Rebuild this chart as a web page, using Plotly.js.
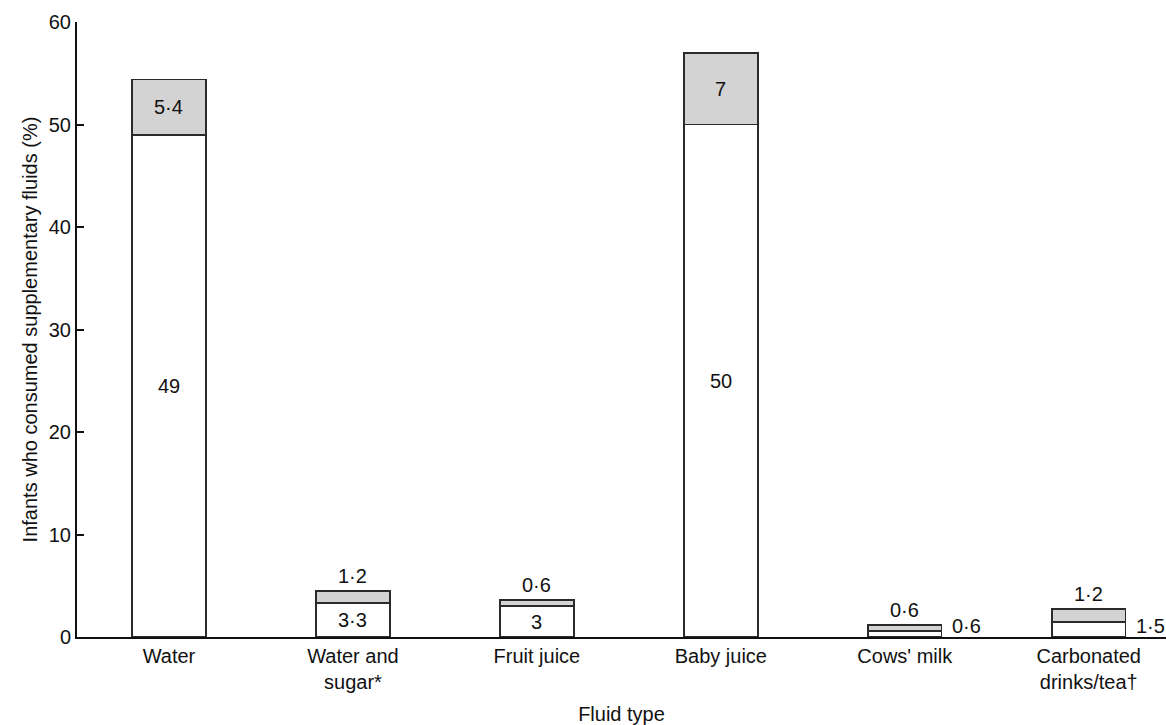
<!DOCTYPE html>
<html>
<head>
<meta charset="utf-8">
<script src="https://cdn.plot.ly/plotly-3.0.1.min.js"></script>
<style>html,body{margin:0;padding:0;background:#fff;}#chart{width:1166px;height:725px;}</style>
</head>
<body>
<div id="chart"></div>
<script>
const categories = ['Water', 'Water and<br>sugar*', 'Fruit juice', 'Baby juice', "Cows' milk", 'Carbonated<br>drinks/tea†'];
const lowerValues = [49, 3.3, 3, 50, 0.6, 1.5];
const upperValues = [5.4, 1.2, 0.6, 7, 0.6, 1.2];
const yTicks = [0, 10, 20, 30, 40, 50, 60];

const FONT = 'Liberation Sans, Arial, Helvetica, sans-serif';
const fmt = v => String(v).replace('.', '·');

const common = {
  type: 'bar', x: categories, width: 0.4, hoverinfo: 'skip',
  textposition: 'none'
};
const traces = [
  Object.assign({}, common, {y: lowerValues, marker: {color: '#ffffff', line: {color: '#2a2a2a', width: 1.8}}}),
  Object.assign({}, common, {y: upperValues, marker: {color: '#d3d3d3', line: {color: '#2a2a2a', width: 1.8}}})
];

const annotations = [];
lowerValues.forEach((v, i) => {
  if (v >= 2.5) {
    annotations.push({x: i, y: v / 2, text: fmt(v), showarrow: false, xref: 'x', yref: 'y',
      yanchor: 'middle', font: {size: 20, color: '#111', family: FONT}});
  } else {
    annotations.push({x: i + 0.2, y: 0, text: fmt(v), showarrow: false, xref: 'x', yref: 'y',
      xanchor: 'left', yanchor: 'bottom', xshift: 8, yshift: -2, font: {size: 20, color: '#111', family: FONT}});
  }
});
upperValues.forEach((v, i) => {
  const base = lowerValues[i];
  if (v >= 4) {
    annotations.push({x: i, y: base + v / 2, text: fmt(v), showarrow: false, xref: 'x', yref: 'y',
      yanchor: 'middle', font: {size: 20, color: '#111', family: FONT}});
  } else {
    annotations.push({x: i, y: base + v, text: fmt(v), showarrow: false, xref: 'x', yref: 'y',
      yanchor: 'bottom', yshift: 2, font: {size: 20, color: '#111', family: FONT}});
  }
});

const layout = {
  width: 1166, height: 725,
  margin: {l: 77, r: 0, t: 22, b: 88, pad: 0},
  paper_bgcolor: '#fff', plot_bgcolor: '#fff',
  barmode: 'stack', showlegend: false,
  font: {family: FONT, size: 20, color: '#111'},
  xaxis: {
    type: 'category', range: [-0.5, 5.42], showline: true, linecolor: '#111', linewidth: 2,
    ticks: '', showgrid: false, zeroline: false, automargin: false,
    tickfont: {size: 20, family: FONT, color: '#111'},
    title: {text: 'Fluid type', font: {size: 20, family: FONT, color: '#111'}, standoff: 21}
  },
  yaxis: {
    range: [0, 60], tickvals: yTicks, ticktext: yTicks.map(String), showline: true, linecolor: '#111', linewidth: 2,
    ticks: 'inside', ticklen: 7, tickwidth: 2, tickcolor: '#111', showgrid: false, zeroline: false,
    automargin: false, tickfont: {size: 20, family: FONT, color: '#111'},
    title: {text: 'Infants who consumed supplementary fluids (%)', font: {size: 20, family: FONT, color: '#111'}, standoff: 6}
  },
  annotations: annotations
};

Plotly.newPlot('chart', traces, layout, {displayModeBar: false, staticPlot: true});
</script>
</body>
</html>
